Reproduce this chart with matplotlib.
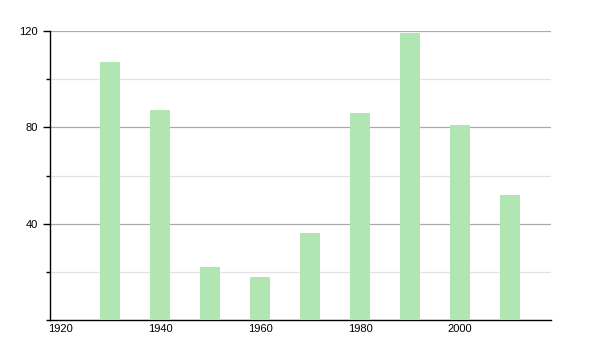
import matplotlib
matplotlib.use("Agg")
import matplotlib.pyplot as plt
from matplotlib.ticker import MultipleLocator

years = [1930, 1940, 1950, 1960, 1970, 1980, 1990, 2000, 2010]
values = [107, 87, 22, 18, 36, 86, 119, 81, 52]
xticks = [1920, 1940, 1960, 1980, 2000]
yticks = [40, 80, 120]

plt.rcParams['font.family'] = ['Liberation Sans', 'DejaVu Sans']
fig = plt.figure(figsize=(6, 3.5), dpi=100)
ax = fig.add_axes([50/600, 30/350, 501/600, 289/350])
ax.bar(years, values, width=4, color='#b1e5b1', zorder=3)
ax.set_xlim(1918, 2018.2)
ax.set_ylim(0, 120)
ax.set_yticks(yticks)
ax.yaxis.set_minor_locator(MultipleLocator(20))
ax.set_xticks(xticks)
ax.grid(axis='y', which='major', color='#aaaaaa', linewidth=0.9, zorder=0)
ax.grid(axis='y', which='minor', color='#e3e3e3', linewidth=0.9, zorder=0)
for s in ['top', 'right']:
    ax.spines[s].set_visible(False)
ax.spines['left'].set_linewidth(1.0)
ax.spines['bottom'].set_linewidth(1.0)
ax.tick_params(axis='y', which='major', length=5, width=1, labelsize=8, pad=4)
ax.tick_params(axis='y', which='minor', length=3, width=1)
ax.tick_params(axis='x', length=0, labelsize=8, pad=3)
fig.savefig('out.png', dpi=100)
